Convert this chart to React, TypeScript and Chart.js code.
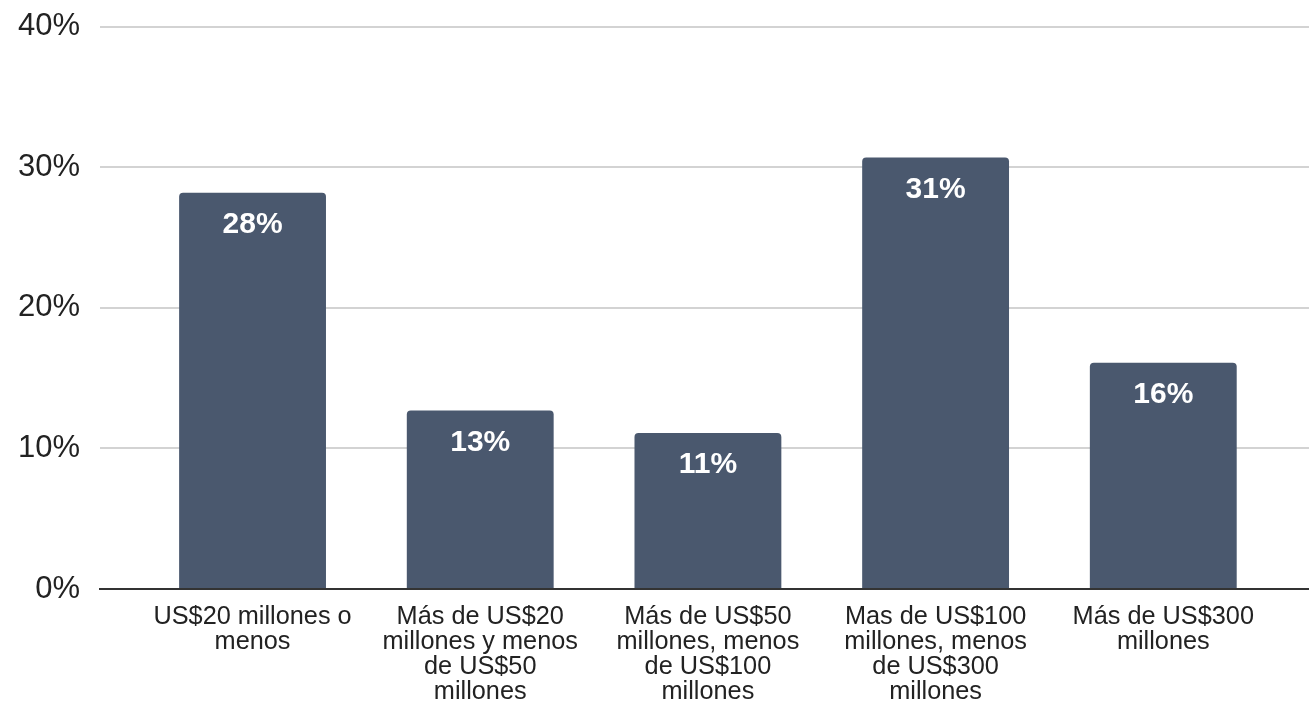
import React, { useEffect, useRef } from 'react';
import { Chart, registerables } from 'chart.js';

Chart.register(...registerables);

const CATEGORIES: string[][] = [
  ['US$20 millones o', 'menos'],
  ['Más de US$20', 'millones y menos', 'de US$50', 'millones'],
  ['Más de US$50', 'millones, menos', 'de US$100', 'millones'],
  ['Mas de US$100', 'millones, menos', 'de US$300', 'millones'],
  ['Más de US$300', 'millones'],
];
const VALUES: number[] = [28.2, 12.7, 11.1, 30.7, 16.1];
const Y_TICKS: number[] = [0, 10, 20, 30, 40];

const FONT = '"Liberation Sans", Arial, sans-serif';
const BAR_COLOR = '#4a586e';

const valueLabels = {
  id: 'valueLabels',
  afterDatasetsDraw(chart: any) {
    const ctx = chart.ctx;
    const meta = chart.getDatasetMeta(0);
    ctx.save();
    ctx.fillStyle = '#ffffff';
    ctx.font = `bold 30px ${FONT}`;
    ctx.textAlign = 'center';
    ctx.textBaseline = 'alphabetic';
    meta.data.forEach((bar: any, i: number) => {
      ctx.fillText(`${Math.round(VALUES[i])}%`, bar.x, bar.y + 40);
    });
    ctx.restore();
  },
};

export default function App() {
  const ref = useRef<HTMLCanvasElement | null>(null);

  useEffect(() => {
    if (!ref.current) return;
    const chart = new Chart(ref.current, {
      type: 'bar',
      data: {
        datasets: [
          {
            data: VALUES.map((v, i) => ({ x: i, y: v })),
            backgroundColor: BAR_COLOR,
            borderRadius: 4,
            barPercentage: 0.645,
            categoryPercentage: 1,
          },
        ],
      },
      options: {
        animation: false,
        responsive: true,
        maintainAspectRatio: false,
        layout: { padding: { top: 26.8, right: 0, bottom: 0, left: 0 } },
        plugins: {
          legend: { display: false },
          tooltip: { enabled: false },
        },
        scales: {
          x: {
            type: 'linear',
            offset: false,
            min: -0.67,
            max: 4.64,
            grid: { display: false, drawTicks: false, offset: false },
            border: { display: true, color: '#333333', width: 2 },
            afterBuildTicks: (scale: any) => {
              scale.ticks = CATEGORIES.map((_, i) => ({ value: i }));
            },
            afterFit: (scale: any) => {
              scale.height = 115;
            },
            ticks: {
              autoSkip: false,
              maxRotation: 0,
              minRotation: 0,
              padding: 16,
              color: '#222222',
              font: { family: FONT, size: 25.3, lineHeight: 0.98 },
              callback: (value: any) => CATEGORIES[Math.round(Number(value))] ?? '',
            },
          },
          y: {
            min: 0,
            max: 40,
            afterBuildTicks: (scale: any) => {
              scale.ticks = Y_TICKS.map((v) => ({ value: v }));
            },
            afterFit: (scale: any) => {
              scale.width = 100;
            },
            grid: { color: '#d3d3d3', lineWidth: 2, drawTicks: false },
            border: { display: false },
            ticks: {
              padding: 20,
              color: '#222222',
              font: { family: FONT, size: 31, lineHeight: 0.4 },
              callback: (value: any) => `${value}%`,
            },
          },
        },
      },
      plugins: [valueLabels],
    });
    return () => chart.destroy();
  }, []);

  return (
    <div style={{ position: 'fixed', left: 0, top: 0, width: 1309, height: 704, background: '#fff' }}>
      <canvas ref={ref} />
    </div>
  );
}
